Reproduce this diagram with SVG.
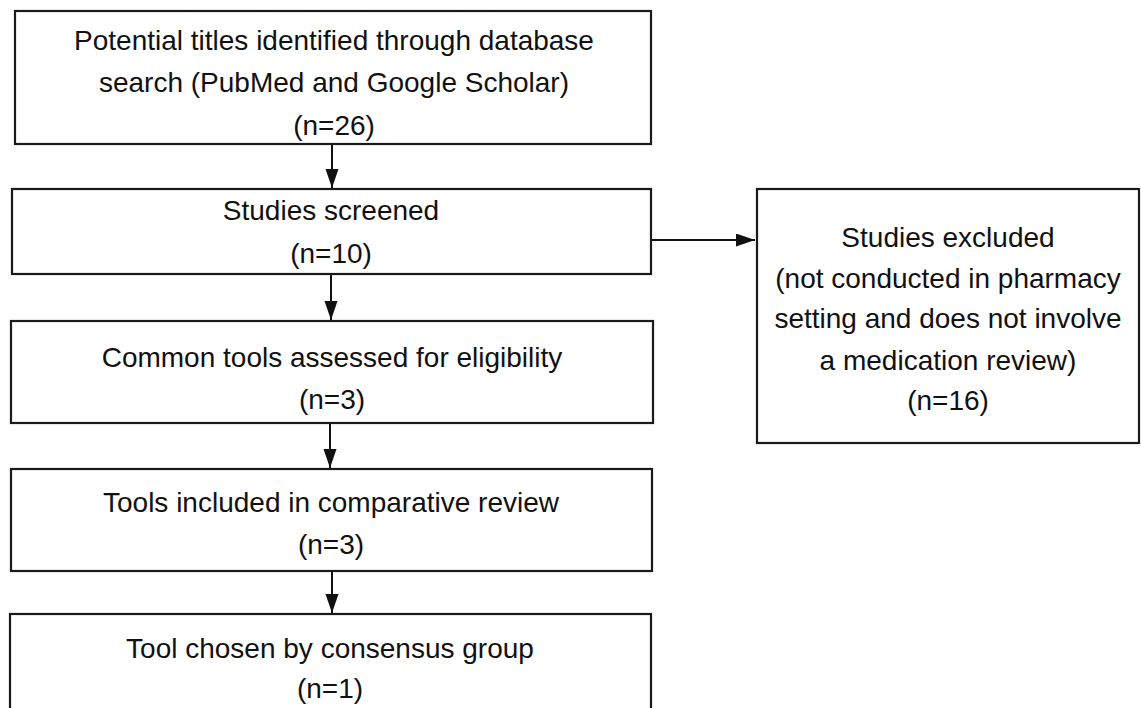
<svg xmlns="http://www.w3.org/2000/svg" width="1141" height="708" viewBox="0 0 1141 708">
<style>
.box{fill:#ffffff;stroke:#1a1a1a;stroke-width:2.2}
.t{font-family:"Liberation Sans",Arial,sans-serif;font-size:28px;fill:#111111;text-anchor:middle;dominant-baseline:central}
.c{fill:none;stroke:#111111;stroke-width:2}
</style>
<defs>
<marker id="ah" markerUnits="userSpaceOnUse" markerWidth="20" markerHeight="14" refX="19" refY="6.5" orient="auto">
<path d="M0,0 L19,6.5 L0,13 Z" fill="#111111"/>
</marker>
</defs>
<rect x="0" y="0" width="1141" height="708" fill="#ffffff"/>
<g id="n1">
<rect class="box" x="15" y="11" width="636" height="133"/>
<text class="t" x="334" y="40">Potential titles identified through database</text>
<text class="t" x="334" y="82">search (PubMed and Google Scholar)</text>
<text class="t" x="334" y="125">(n=26)</text>
</g>
<g id="n2">
<rect class="box" x="12" y="189" width="639" height="85"/>
<text class="t" x="331" y="210">Studies screened</text>
<text class="t" x="331" y="253">(n=10)</text>
</g>
<g id="n3">
<rect class="box" x="11" y="321" width="642" height="102"/>
<text class="t" x="332" y="357">Common tools assessed for eligibility</text>
<text class="t" x="332" y="399">(n=3)</text>
</g>
<g id="n4">
<rect class="box" x="11" y="469" width="641" height="102"/>
<text class="t" x="331" y="502">Tools included in comparative review</text>
<text class="t" x="331" y="544">(n=3)</text>
</g>
<g id="n5">
<rect class="box" x="10" y="614" width="641" height="110"/>
<text class="t" x="330" y="648">Tool chosen by consensus group</text>
<text class="t" x="330" y="688">(n=1)</text>
</g>
<g id="n6">
<rect class="box" x="757" y="189" width="382" height="254"/>
<text class="t" x="948" y="237">Studies excluded</text>
<text class="t" x="948" y="278">(not conducted in pharmacy</text>
<text class="t" x="948" y="318">setting and does not involve</text>
<text class="t" x="948" y="360">a medication review)</text>
<text class="t" x="948" y="400">(n=16)</text>
</g>
<g id="connectors">
<line class="c" x1="332" y1="145" x2="332" y2="188" marker-end="url(#ah)"/>
<line class="c" x1="331" y1="275" x2="331" y2="320" marker-end="url(#ah)"/>
<line class="c" x1="330" y1="424" x2="330" y2="468" marker-end="url(#ah)"/>
<line class="c" x1="332" y1="572" x2="332" y2="613" marker-end="url(#ah)"/>
<line class="c" x1="652" y1="240" x2="755" y2="240" marker-end="url(#ah)"/>
</g>
</svg>
